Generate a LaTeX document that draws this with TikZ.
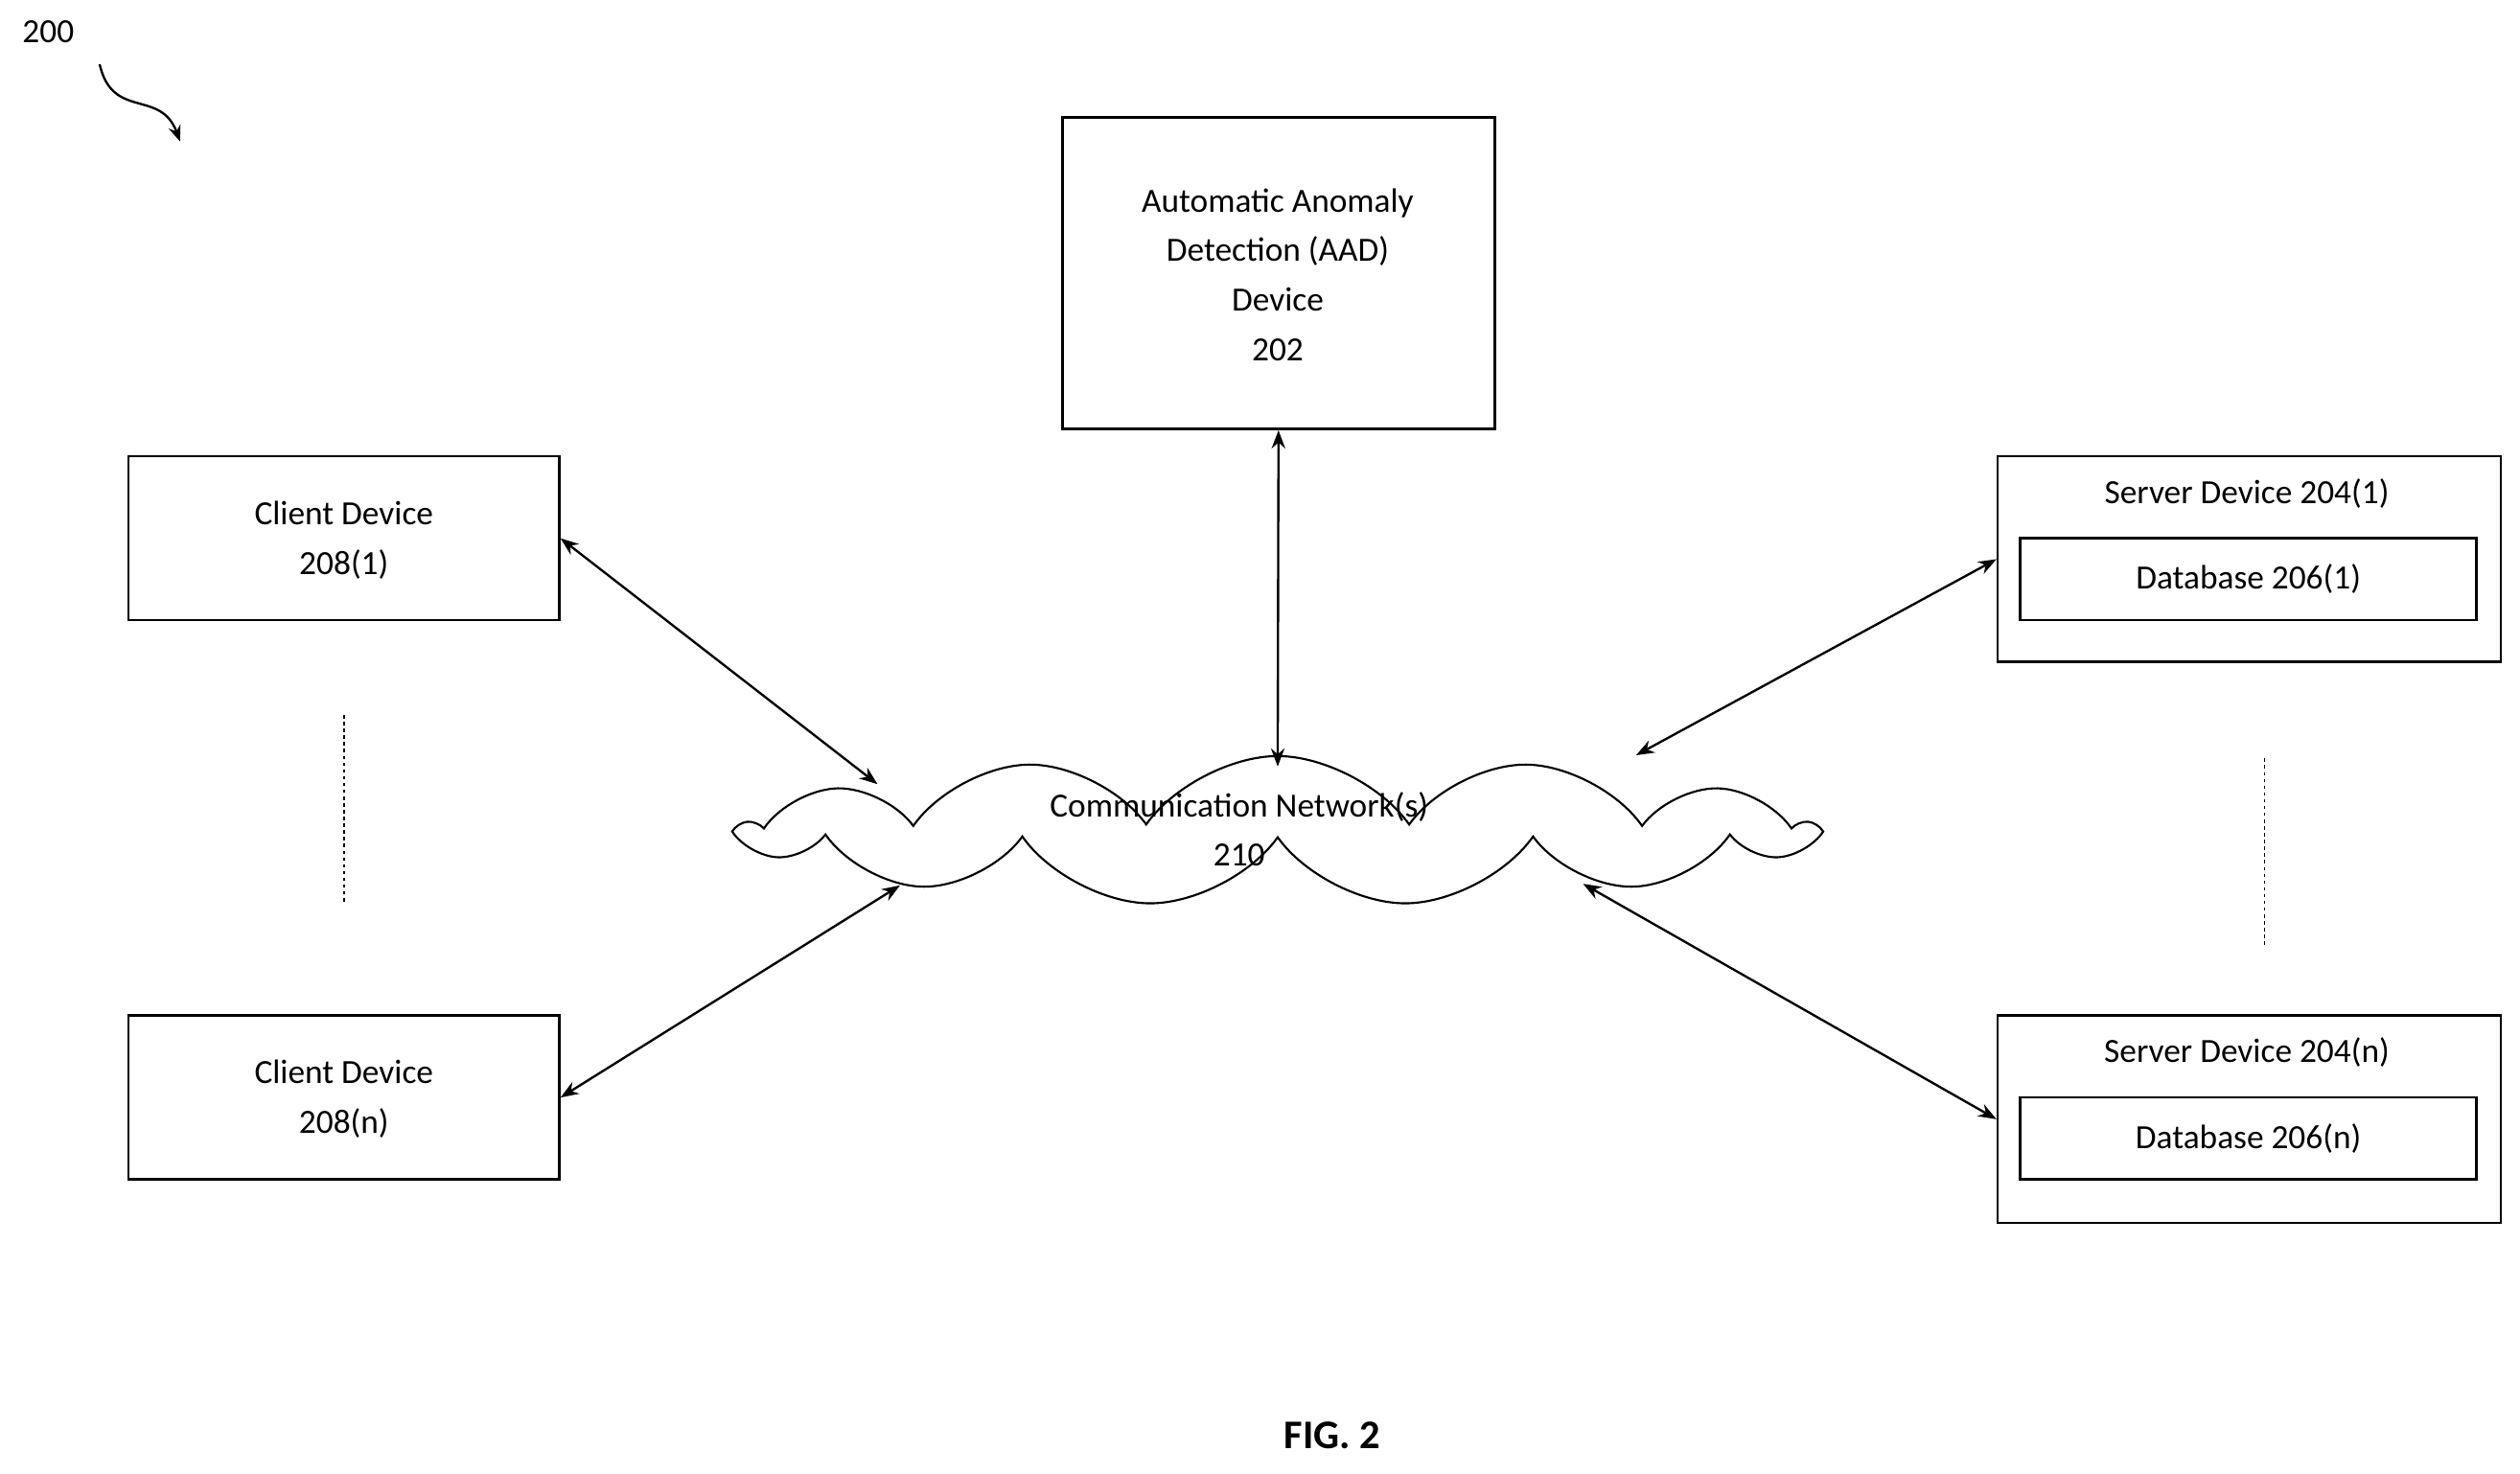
\documentclass[tikz,border=0pt]{standalone}
\usepackage{fontspec}
\setmainfont{Carlito}
\usetikzlibrary{shapes.symbols,arrows.meta}
\begin{document}
\begin{tikzpicture}[x=0.05cm,y=-0.05cm,
  box/.style={draw,line width=2.2pt,minimum width=#1},
  txt/.style={font=\fontsize{30}{44}\selectfont,align=center},
  arr/.style={line width=2pt,{Stealth[length=16pt,width=12pt]}-{Stealth[length=16pt,width=12pt]}},
  dot/.style={line width=1.2pt,dash pattern=on 3pt off 3pt}]
\useasboundingbox (0,0) rectangle (1568,917);
\node[draw,line width=2.2pt,minimum width=269*0.05cm,minimum height=194*0.05cm] (aad) at (795.5,170) {};
\node[txt] (aadt) at (795,171) {Automatic Anomaly\\Detection (AAD)\\Device\\202};
\node[draw,line width=2.2pt,minimum width=268*0.05cm,minimum height=102*0.05cm] (c1) at (214,335) {};
\node[txt] at (214,336) {Client Device\\208(1)};
\node[draw,line width=2.2pt,minimum width=268*0.05cm,minimum height=102*0.05cm] (cn) at (214,683) {};
\node[txt] at (214,684) {Client Device\\208(n)};
\node[draw,line width=2.2pt,minimum width=313*0.05cm,minimum height=128*0.05cm] (s1) at (1399.5,348) {};
\node[txt] at (1398,307) {Server Device 204(1)};
\node[draw,line width=2.2pt,minimum width=284*0.05cm,minimum height=51*0.05cm,txt] (d1) at (1399,360.5) {Database 206(1)};
\node[draw,line width=2.2pt,minimum width=313*0.05cm,minimum height=129*0.05cm] (sn) at (1399.5,696.5) {};
\node[txt] at (1398,655) {Server Device 204(n)};
\node[draw,line width=2.2pt,minimum width=284*0.05cm,minimum height=51*0.05cm,txt] (dn) at (1399,708.5) {Database 206(n)};
\node[cloud,draw,line width=1.8pt,cloud puffs=13,cloud puff arc=110,aspect=7,minimum width=665*0.05cm,minimum height=93*0.05cm,inner sep=0pt] (net) at (795,517) {};
\node[txt] at (771,516) {Communication Network(s)\\210};
\coordinate (n1) at (546,488);
\coordinate (nn) at (560,551);
\coordinate (ns1) at (1018,470);
\coordinate (nsn) at (985,550);
\coordinate (na) at (795,477);
\draw[arr] (aad.south) -- (na);
\draw[arr] (c1.east) -- (n1);
\draw[arr] (cn.east) -- (nn);
\draw[arr] (s1.west) -- (ns1);
\draw[arr] (sn.west) -- (nsn);
\coordinate (a1) at (214,445); \coordinate (a2) at (214,563);
\draw[dot] (a1) -- (a2);
\coordinate (b1) at (1409,472); \coordinate (b2) at (1409,590);
\draw[dot] (b1) -- (b2);
\node[txt] (lbl) at (30,20) {200};
\coordinate (p1) at (62,40); \coordinate (p2) at (112,88);
\draw[line width=2pt,-{Stealth[length=14pt,width=11pt]}] (p1) .. controls (70,75) and (100,55) .. (p2);
\node[font=\fontsize{36}{40}\selectfont\bfseries] (fig) at (829,893) {FIG. 2};
\end{tikzpicture}
\end{document}
